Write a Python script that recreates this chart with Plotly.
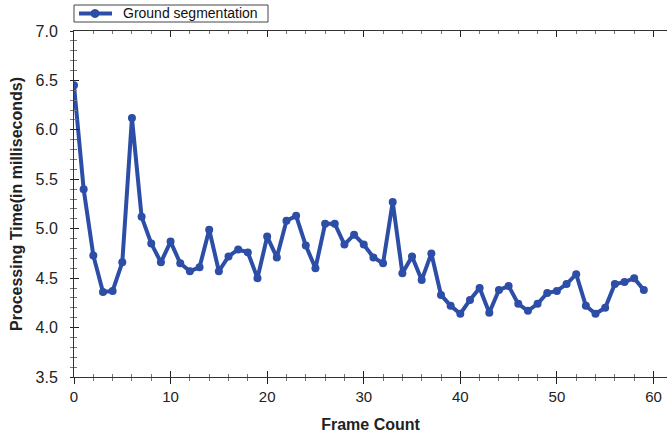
import plotly.graph_objects as go

frames = list(range(60))
times = [6.45, 5.40, 4.73, 4.36, 4.37, 4.66, 6.12, 5.12, 4.85, 4.66,
         4.87, 4.65, 4.57, 4.61, 4.99, 4.57, 4.72, 4.79, 4.76, 4.50,
         4.92, 4.71, 5.08, 5.13, 4.83, 4.60, 5.05, 5.05, 4.84, 4.94,
         4.84, 4.71, 4.65, 5.27, 4.55, 4.72, 4.48, 4.75, 4.33, 4.22,
         4.14, 4.28, 4.40, 4.15, 4.38, 4.42, 4.24, 4.17, 4.24, 4.35,
         4.37, 4.44, 4.54, 4.22, 4.14, 4.20, 4.44, 4.46, 4.50, 4.38]
series_name = "Ground segmentation"
x_title = "Frame Count"
y_title = "Processing Time(in milliseconds)"

color = "#2D4EA6"
font_family = "Liberation Sans, Arial, sans-serif"

W, H = 667, 435
ML, MR, MT, MB = 74, 0, 31, 58


def px(xp):
    return (xp - ML) / (W - ML - MR)


def py(yp):
    return (H - MB - yp) / (H - MT - MB)


fig = go.Figure()
fig.add_trace(go.Scatter(
    x=frames, y=times, mode="lines+markers", name=series_name,
    line=dict(color=color, width=4),
    marker=dict(color=color, size=8),
    showlegend=False,
))

xrange = [0, 61.4]
yrange = [3.5, 7.0]

# legend box drawn as shapes + text
fig.add_shape(type="rect", xref="paper", yref="paper",
              x0=px(74), x1=px(268), y0=py(22), y1=py(5),
              line=dict(color="#444444", width=1), fillcolor="white", layer="above")
fig.add_shape(type="line", xref="paper", yref="paper",
              x0=px(79), x1=px(112), y0=py(13.5), y1=py(13.5),
              line=dict(color=color, width=4), layer="above")
fig.add_shape(type="circle", xref="paper", yref="paper",
              x0=px(91), x1=px(99), y0=py(17.5), y1=py(9.5),
              line=dict(color=color, width=1), fillcolor=color, layer="above")
fig.add_annotation(text=series_name, xref="paper", yref="paper",
                   x=px(121), y=py(13.5), xanchor="left", yanchor="middle",
                   showarrow=False, font=dict(size=14, color="#111111"))

fig.update_layout(
    width=W, height=H,
    margin=dict(l=ML, r=MR, t=MT, b=MB, autoexpand=False),
    paper_bgcolor="white", plot_bgcolor="white",
    font=dict(family=font_family, color="#222222"),
    showlegend=False,
    xaxis=dict(range=xrange, showgrid=False, zeroline=False,
               showline=True, linecolor="#333333", linewidth=1,
               mirror="ticks", ticks="inside", ticklen=6, tickwidth=1,
               tickcolor="#222222", dtick=10, tick0=0,
               minor=dict(dtick=2, ticks="inside", ticklen=3, tickcolor="#777777"),
               tickfont=dict(size=15), ticklabelstandoff=6,
               title=dict(text="<b>" + x_title + "</b>", font=dict(size=16), standoff=14)),
    yaxis=dict(range=yrange, showgrid=False, zeroline=False,
               showline=True, linecolor="#333333", linewidth=1,
               ticks="inside", ticklen=5, tickwidth=1, tickcolor="#222222",
               dtick=0.5, tick0=3.5, tickformat=".1f",
               minor=dict(dtick=0.1, ticks="inside", ticklen=3, tickcolor="#777777"),
               tickfont=dict(size=16), ticklabelstandoff=12,
               title=dict(text="<b>" + y_title + "</b>", font=dict(size=16), standoff=8)),
    xaxis2=dict(range=xrange, overlaying="x", side="bottom", showgrid=False,
                zeroline=False, showline=False, showticklabels=False,
                ticks="outside", ticklen=6, tickwidth=1, tickcolor="#222222",
                dtick=10, tick0=0,
                minor=dict(dtick=2, ticks="outside", ticklen=3, tickcolor="#777777")),
    yaxis2=dict(range=yrange, overlaying="y", side="left", showgrid=False,
                zeroline=False, showline=False, showticklabels=False,
                ticks="outside", ticklen=3, tickwidth=1, tickcolor="#222222",
                dtick=0.5, tick0=3.5,
                minor=dict(dtick=0.1, ticks="outside", ticklen=3, tickcolor="#777777")),
)

# invisible trace to activate overlay axes for crossing ticks
fig.add_trace(go.Scatter(x=[None], y=[None], xaxis="x2", yaxis="y2",
                         showlegend=False, hoverinfo="skip"))

fig.write_html("out.html", config={"displayModeBar": False},
               post_script="document.body.style.margin='0';")
